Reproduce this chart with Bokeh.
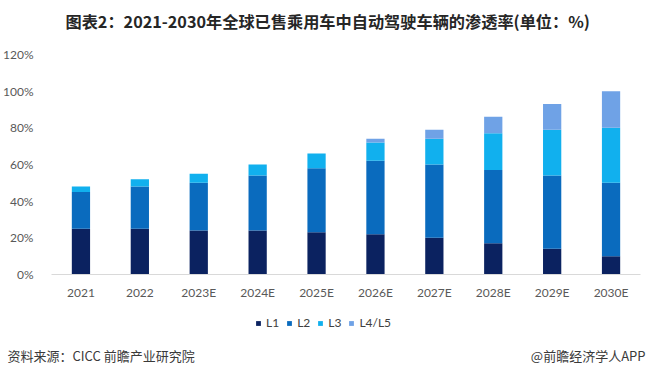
from bokeh.plotting import figure
from bokeh.layouts import column
from bokeh.models import ColumnDataSource, Legend, LegendItem, Label, FactorRange, Range1d, NumeralTickFormatter
from bokeh.embed import file_html
from bokeh.resources import INLINE

years = ["2021", "2022", "2023E", "2024E", "2025E", "2026E", "2027E", "2028E", "2029E", "2030E"]
l1 = [25, 25, 24, 24, 23, 22, 20, 17, 14, 10]
l2 = [20, 23, 26, 30, 35, 40, 40, 40, 40, 40]
l3 = [3, 4, 5, 6, 8, 10, 14, 20, 25, 30]
l45 = [0, 0, 0, 0, 0, 2, 5, 9, 14, 20]
series = ["L1", "L2", "L3", "L4/L5"]
colors = ["#0B2260", "#0A6BBE", "#11B0EE", "#6FA2E6"]
yticks = [0, 20, 40, 60, 80, 100, 120]
stack_keys = ["L1", "L2", "L3", "L45"]
title_text = "图表2：2021-2030年全球已售乘用车中自动驾驶车辆的渗透率(单位：%)"

source = ColumnDataSource(dict(year=years, L1=l1, L2=l2, L3=l3, L45=l45))

W = 646


def blank(height):
    f = figure(x_range=Range1d(0, W), y_range=Range1d(0, height), width=W, height=height,
               output_backend="svg", toolbar_location=None,
               min_border=0, x_axis_location=None, y_axis_location=None)
    f.frame_align = False
    f.outline_line_color = None
    f.xgrid.grid_line_color = None
    f.ygrid.grid_line_color = None
    return f


# header with title
head = blank(40)
head.add_layout(Label(x=65, y=20, text=title_text, text_font="Noto Sans CJK SC",
                      text_font_style="bold", text_font_size="16.2px", text_color="#262626",
                      text_align="left", text_baseline="middle"))

# main chart
p = figure(x_range=FactorRange(*years), y_range=Range1d(0, 120),
           width=W, height=266, output_backend="svg", toolbar_location=None,
           min_border_left=44, min_border_right=W - 640, min_border_top=14, min_border_bottom=32)
p.frame_align = False
p.outline_line_color = None
p.xgrid.grid_line_color = None
p.ygrid.grid_line_color = None

p.vbar_stack(stack_keys, x="year", width=0.31, color=colors, line_color=None, source=source)

p.xaxis.axis_line_color = "#D9D9D9"
p.xaxis.major_tick_line_color = None
p.xaxis.minor_tick_line_color = None
p.xaxis.major_label_text_font = "Lato"
p.xaxis.major_label_text_font_size = "12px"
p.xaxis.major_label_text_color = "#595959"
p.xaxis.major_label_standoff = 4

p.yaxis.axis_line_color = None
p.yaxis.major_tick_line_color = None
p.yaxis.minor_tick_line_color = None
p.yaxis.ticker = yticks
p.yaxis.formatter = NumeralTickFormatter(format="0")
p.yaxis.major_label_overrides = {v: f"{v}%" for v in yticks}
p.yaxis.major_label_text_font = "Lato"
p.yaxis.major_label_text_font_size = "12px"
p.yaxis.major_label_text_color = "#595959"
p.yaxis.major_label_standoff = 12

# footer: legend + source line
foot = figure(x_range=FactorRange(*years), y_range=Range1d(0, 62), width=W, height=62,
              output_backend="svg", toolbar_location=None,
              min_border=0, x_axis_location=None, y_axis_location=None)
foot.frame_align = False
foot.outline_line_color = None
foot.xgrid.grid_line_color = None
foot.ygrid.grid_line_color = None

legend_rs = foot.vbar_stack(stack_keys, x="year", width=0.31, color=colors, line_color=None,
                            source=source)
for r in legend_rs:
    r.visible = False

legend = Legend(items=[LegendItem(label=s, renderers=[r]) for s, r in zip(series, legend_rs)],
                orientation="horizontal", location=(255, 38),
                glyph_width=6, glyph_height=6, label_standoff=5, spacing=7, label_width=0,
                label_text_font="Lato", label_text_font_size="12px", label_text_color="#404040",
                label_height=14, border_line_color=None, background_fill_alpha=0,
                padding=0, margin=0)
foot.add_layout(legend)

foot.add_layout(Label(x=7, y=13, text="资料来源：CICC 前瞻产业研究院", x_units="screen",
                      text_font="Noto Sans CJK SC", text_font_size="13px", text_color="#3A3A3A",
                      text_align="left", text_baseline="middle"))
foot.add_layout(Label(x=W - 1, y=13, text="@前瞻经济学人APP", x_units="screen",
                      text_font="Noto Sans CJK SC", text_font_size="13px", text_color="#3A3A3A",
                      text_align="right", text_baseline="middle"))

layout = column(head, p, foot, spacing=0)
open("out.html", "w").write(file_html(layout, INLINE))
